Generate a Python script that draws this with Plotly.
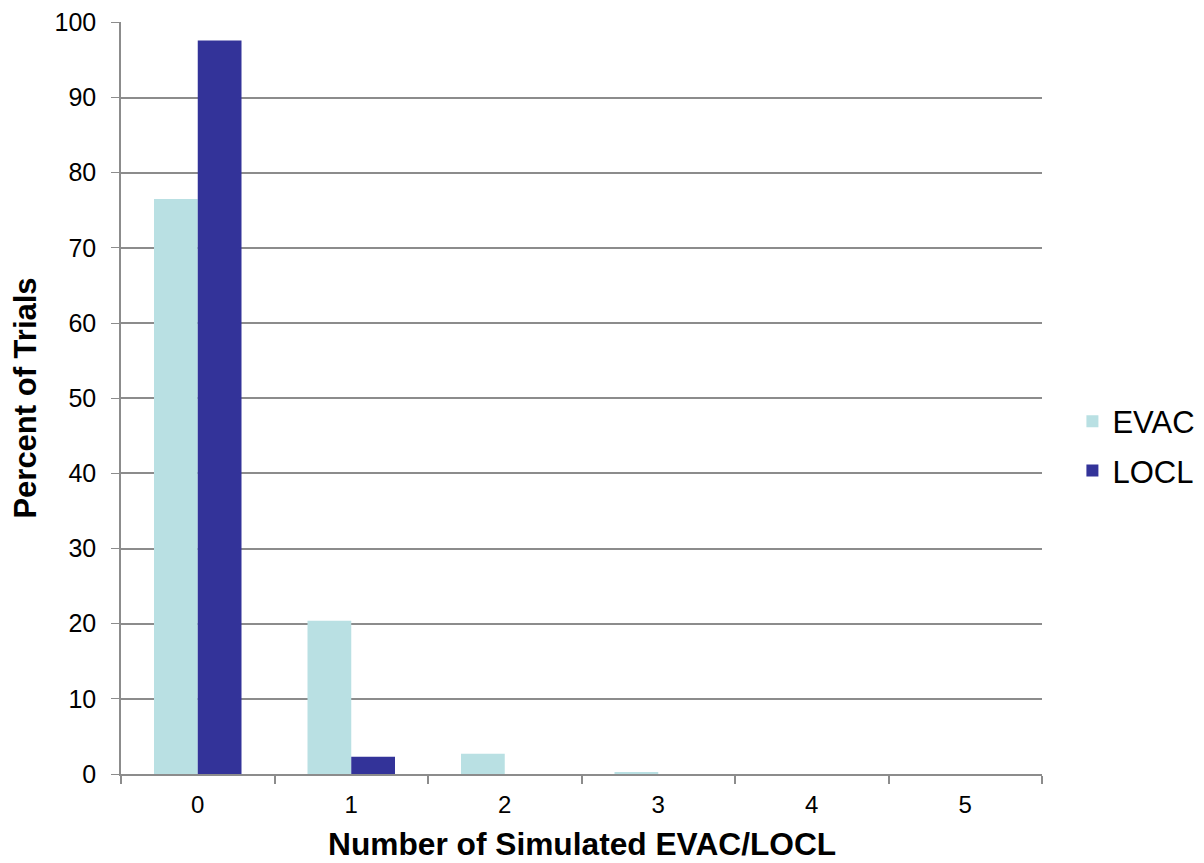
import plotly.graph_objects as go

categories = ["0", "1", "2", "3", "4", "5"]
evac = [76.5, 20.4, 2.7, 0.2, 0.0, 0.0]
locl = [97.6, 2.3, 0.0, 0.0, 0.0, 0.0]
y_ticks = [0, 10, 20, 30, 40, 50, 60, 70, 80, 90, 100]
x_title = "Number of Simulated EVAC/LOCL"
y_title = "Percent of Trials"

fig = go.Figure()
fig.add_trace(go.Bar(name="EVAC", x=categories, y=evac, legendgroup="a",
                     marker=dict(color="#B9E0E3", line=dict(width=0))))
fig.add_trace(go.Bar(name="LOCL", x=categories, y=locl, legendgroup="b",
                     marker=dict(color="#333399", line=dict(width=0))))

fig.update_layout(
    width=1196, height=855,
    paper_bgcolor="white", plot_bgcolor="white",
    margin=dict(l=113, r=162, t=14, b=89, autoexpand=False),
    barmode="group", bargap=0.43, bargroupgap=0,
    font=dict(family="Liberation Sans, Arial", size=25, color="black"),
    legend=dict(x=1.172, y=0.436, xanchor="right", yanchor="middle",
                font=dict(size=31), itemwidth=30, tracegroupgap=6,
                bgcolor="rgba(0,0,0,0)"),
    xaxis=dict(
        automargin=False,
        showline=True, linecolor="#8C8C8C", linewidth=2,
        ticks="outside", ticklen=8, tickcolor="#8C8C8C", tickwidth=1.5,
        tickson="boundaries", tickfont=dict(size=24), ticklabelstandoff=8,
        showgrid=False,
    ),
    yaxis=dict(
        title=dict(text="<b>" + y_title + "</b>", font=dict(size=31), standoff=21),
        automargin=False,
        range=[0, 100.05], tickvals=y_ticks,
        showline=True, linecolor="#8C8C8C", linewidth=1.5,
        ticks="outside", ticklen=8, tickcolor="#8C8C8C",
        ticklabelstandoff=10, ticklabeloverflow="allow",
        showgrid=True, gridcolor="#8C8C8C", gridwidth=1.5,
        tickfont=dict(size=25), zeroline=False,
    ),
    annotations=[dict(
        text="<b>" + x_title + "</b>", xref="paper", yref="paper",
        x=0.5, y=0, xanchor="center", yanchor="middle", yshift=-70,
        showarrow=False, font=dict(size=31.7),
    )],
)

fig.write_html("out.html")
